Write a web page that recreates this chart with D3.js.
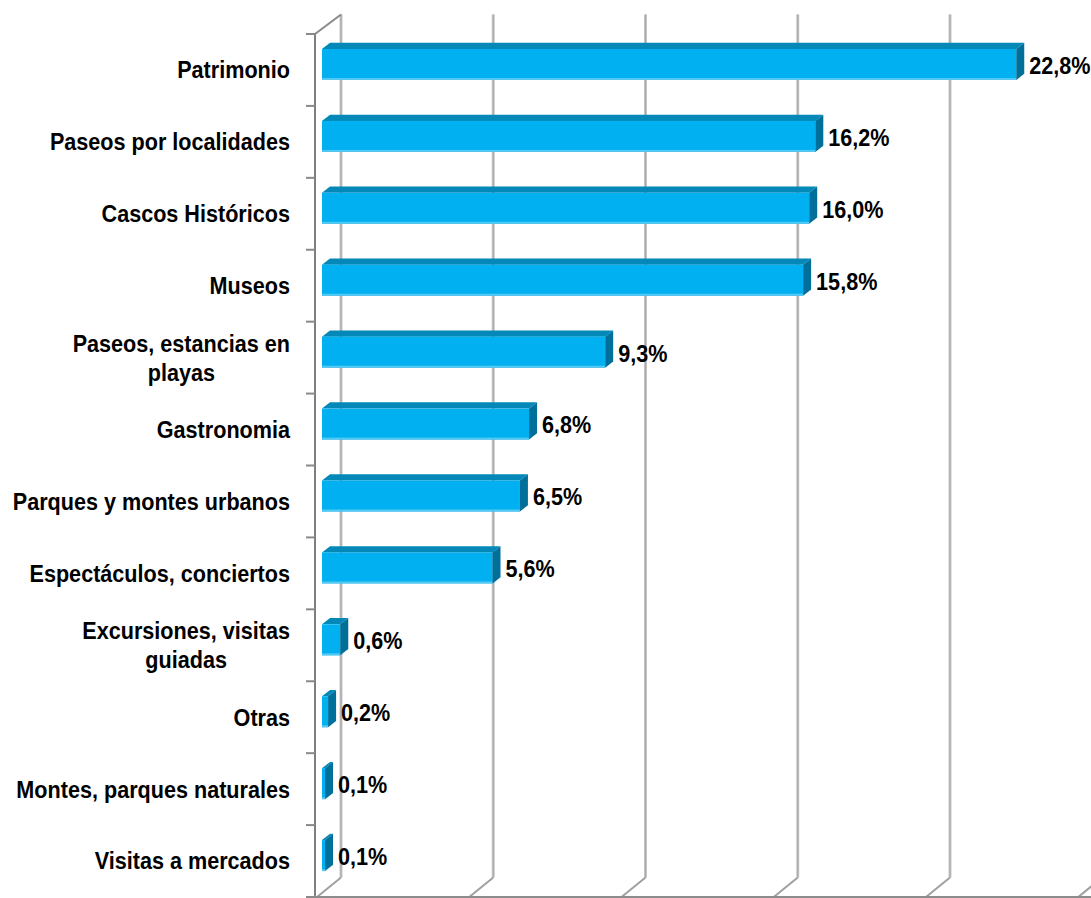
<!DOCTYPE html>
<html><head><meta charset="utf-8">
<script src="https://cdn.jsdelivr.net/npm/d3@7"></script>
<style>
html,body{margin:0;padding:0;background:#fff;}
svg{display:block;}
text{font-family:"Liberation Sans Narrow","Arial Narrow","Liberation Sans",Arial,sans-serif;font-weight:bold;fill:#000;}
</style></head>
<body>
<svg id="c" width="1091" height="898"></svg>
<script>
const categories = [
  ["Patrimonio"],
  ["Paseos por localidades"],
  ["Cascos Históricos"],
  ["Museos"],
  ["Paseos, estancias en","playas"],
  ["Gastronomia"],
  ["Parques y montes urbanos"],
  ["Espectáculos, conciertos"],
  ["Excursiones, visitas","guiadas"],
  ["Otras"],
  ["Montes, parques naturales"],
  ["Visitas a mercados"]
];
const values = [22.8, 16.2, 16.0, 15.8, 9.3, 6.8, 6.5, 5.6, 0.6, 0.2, 0.1, 0.1];
const valueLabels = ["22,8%","16,2%","16,0%","15,8%","9,3%","6,8%","6,5%","5,6%","0,6%","0,2%","0,1%","0,1%"];
const gridTicks = [0, 5, 10, 15, 20, 25];

const svg = d3.select("#c");
const W = 1091, H = 898;
const FS = 24, SX = 0.9;
const DX = 25, DY = 19.5;          // depth vector (back wall offset)
const frontX0 = 315, floorY = 897, topY = 34;
const x = d3.scaleLinear().domain([0, 25]).range([frontX0, frontX0 + 25 * 30.45]);
const y = d3.scaleBand().domain(d3.range(categories.length)).range([topY, floorY]).padding(0);

const g = svg.append("g");

// back wall gridlines + floor diagonals
gridTicks.forEach(t => {
  const bx = x(t) + DX + 1;
  g.append("line").attr("x1", bx).attr("x2", bx).attr("y1", topY - DY).attr("y2", floorY - DY)
    .attr("stroke", "#c8c8c8").attr("stroke-width", 3);
  g.append("line").attr("x1", bx).attr("x2", bx).attr("y1", topY - DY).attr("y2", floorY - DY)
    .attr("stroke", "#a8a8a8").attr("stroke-width", 1.2);
  g.append("line").attr("x1", bx).attr("y1", floorY - DY).attr("x2", bx - DX + 1).attr("y2", floorY)
    .attr("stroke", "#a0a0a0").attr("stroke-width", 2);
});

// left wall top diagonal
g.append("line").attr("x1", frontX0).attr("y1", topY).attr("x2", frontX0 + DX + 1).attr("y2", topY - DY)
  .attr("stroke", "#8a8a8a").attr("stroke-width", 2);

// floor front edge
g.append("line").attr("x1", frontX0).attr("x2", W).attr("y1", floorY).attr("y2", floorY)
  .attr("stroke", "#8c8c8c").attr("stroke-width", 2);

// left axis
g.append("line").attr("x1", frontX0).attr("x2", frontX0).attr("y1", topY).attr("y2", floorY)
  .attr("stroke", "#808080").attr("stroke-width", 2);
d3.range(categories.length + 1).forEach(i => {
  const ty = topY + i * y.bandwidth();
  g.append("line").attr("x1", frontX0 - 9).attr("x2", frontX0).attr("y1", ty).attr("y2", ty)
    .attr("stroke", "#8a8a8a").attr("stroke-width", 2);
});

// bars
const d1 = 0.28, d2 = 0.6;
const barH = 31;
const bars = g.append("g");
values.forEach((v, i) => {
  const cy = y(i) + y.bandwidth() / 2;
  const ox = DX * d1, oy = -DY * d1;
  const sx = DX * (d2 - d1), sy = -DY * (d2 - d1);
  const x0 = x(0) + ox, x1 = Math.max(x(v) + ox, x0 + 3);
  const yT = cy - barH / 2 + oy, yB = cy + barH / 2 + oy;
  // top face
  bars.append("polygon")
    .attr("points", [[x0, yT], [x1, yT], [x1 + sx, yT + sy], [x0 + sx, yT + sy]].map(p => p.join(",")).join(" "))
    .attr("fill", "#0388b8");
  // front face
  bars.append("rect").attr("x", x0).attr("y", yT).attr("width", x1 - x0).attr("height", yB - yT)
    .attr("fill", "#00b0f0");
  bars.append("rect").attr("x", x0).attr("y", yB - 2).attr("width", x1 - x0).attr("height", 2)
    .attr("fill", "#55c8f2");
  // side face
  bars.append("polygon")
    .attr("points", [[x1, yT], [x1 + sx, yT + sy], [x1 + sx, yB + sy], [x1, yB]].map(p => p.join(",")).join(" "))
    .attr("fill", "#006f9a");
  // value label
  bars.append("text")
    .attr("transform", `translate(${x1 + sx + 5},${cy + oy + 1}) scale(${SX},1)`)
    .attr("dy", "0.35em")
    .attr("font-size", FS).text(valueLabels[i]);
});

// category labels
categories.forEach((lines, i) => {
  const cy = y(i) + y.bandwidth() / 2;
  const lh = 29;
  const t = g.append("text").attr("font-size", FS).attr("text-anchor", "middle");
  const tsp = lines.map((s, k) => t.append("tspan").attr("x", 0)
    .attr("y", (k - (lines.length - 1) / 2) * lh).attr("dy", "0.35em").text(s));
  let maxW = 0;
  tsp.forEach(s => { maxW = Math.max(maxW, s.node().getComputedTextLength() * SX); });
  const cx = 290 - maxW / 2;
  t.attr("transform", `translate(${cx},${cy}) scale(${SX},1)`);
});
</script>
</body></html>
